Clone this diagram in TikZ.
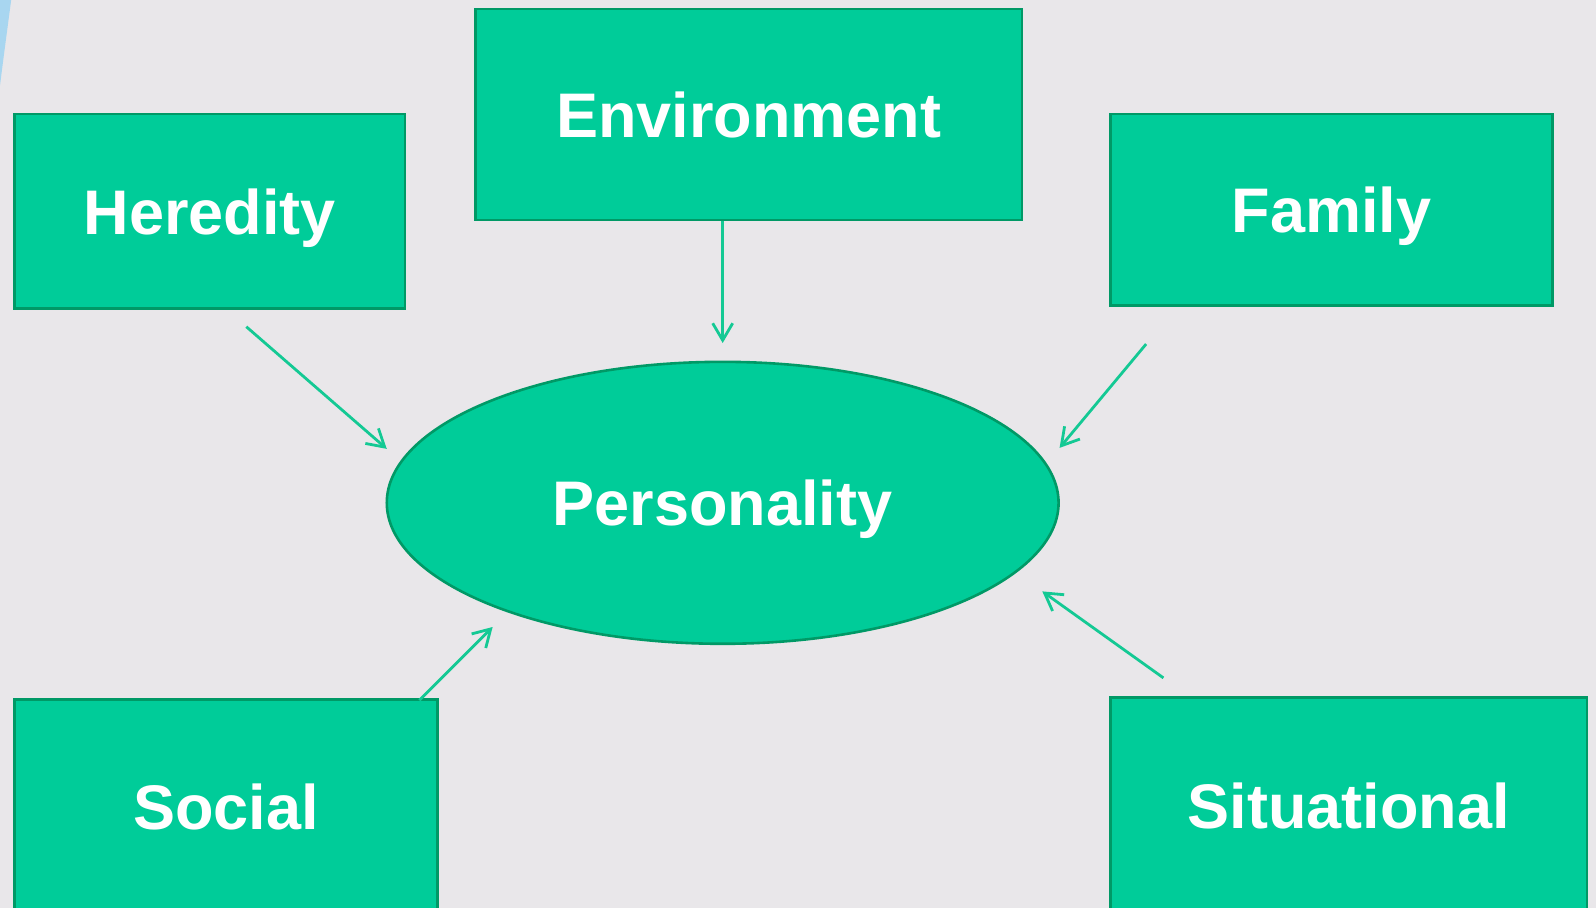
\documentclass[tikz,border=0pt]{standalone}
\usepackage{fontspec}
\setmainfont{Liberation Sans}
\usetikzlibrary{arrows.meta,shapes.geometric}

\definecolor{bgcol}{RGB}{233,231,234}
\definecolor{boxfill}{RGB}{0,204,153}
\definecolor{boxline}{RGB}{0,153,102}
\definecolor{arrcol}{RGB}{20,201,148}
\definecolor{sliver}{RGB}{168,214,240}

\def\px{0.509pt}

\tikzset{
  factor/.style={draw=boxline, fill=boxfill, line width=1.3pt, rectangle, inner sep=0pt,
    text=white, text depth=0pt, font=\fontsize{31.5}{36}\selectfont\bfseries},
  core/.style={draw=boxline, fill=boxfill, line width=1.3pt, ellipse, inner sep=0pt,
    minimum width=660*\px, minimum height=277*\px, text depth=0pt,
    text=white, font=\fontsize{31.5}{36}\selectfont\bfseries},
  word/.style={text=white, text depth=0pt, font=\fontsize{31.5}{36}\selectfont\bfseries},
  link/.style={draw=arrcol, line width=1.4pt}
}

\begin{document}
\begin{tikzpicture}[x=0.509pt, y=-0.509pt, >={Straight Barb[length=8.5pt,width=10pt]}]
\clip (0,0) rectangle (1568,892);
\fill[bgcol] (0,0) rectangle (1568,892);
\fill[sliver] (0,0) -- (11,0) .. controls (7,30) and (3,60) .. (0,84) -- cycle;
%
\draw (710,494) node[core] (pers) {Personality};
%
\draw (206,207.5) node[factor, minimum width=384*\px, minimum height=191*\px] (her) {Heredity};
\draw (735.5,112.5) node[factor, minimum width=537*\px, minimum height=207*\px] (env) {Environment};
\draw (1308,206) node[factor, minimum width=434*\px, minimum height=188*\px] (fam) {Family};
%
\draw (222,800) node[factor, minimum width=416*\px, minimum height=226*\px] (socbox) {};
\draw (222,793) node[word] (soc) {Social};
\draw (1325,800) node[factor, minimum width=468*\px, minimum height=230*\px] (sitbox) {};
\draw (1325,792) node[word] (sit) {Situational};
%
\coordinate (her-out) at (242,321);
\coordinate (her-in) at (380,441);
\path[link, ->] (her-out) -- (her-in);
%
\coordinate (env-in) at (710,337);
\path[link, ->] (env.south -| env-in) -- (env-in);
%
\coordinate (fam-out) at (1126,338);
\coordinate (fam-in) at (1041,440);
\path[link, ->] (fam-out) -- (fam-in);
%
\coordinate (soc-out) at (412,688);
\coordinate (soc-in) at (484,616);
\path[link, ->] (soc-out) -- (soc-in);
%
\coordinate (sit-out) at (1143,666);
\coordinate (sit-in) at (1024,581);
\path[link, ->] (sit-out) -- (sit-in);
\end{tikzpicture}
\end{document}
